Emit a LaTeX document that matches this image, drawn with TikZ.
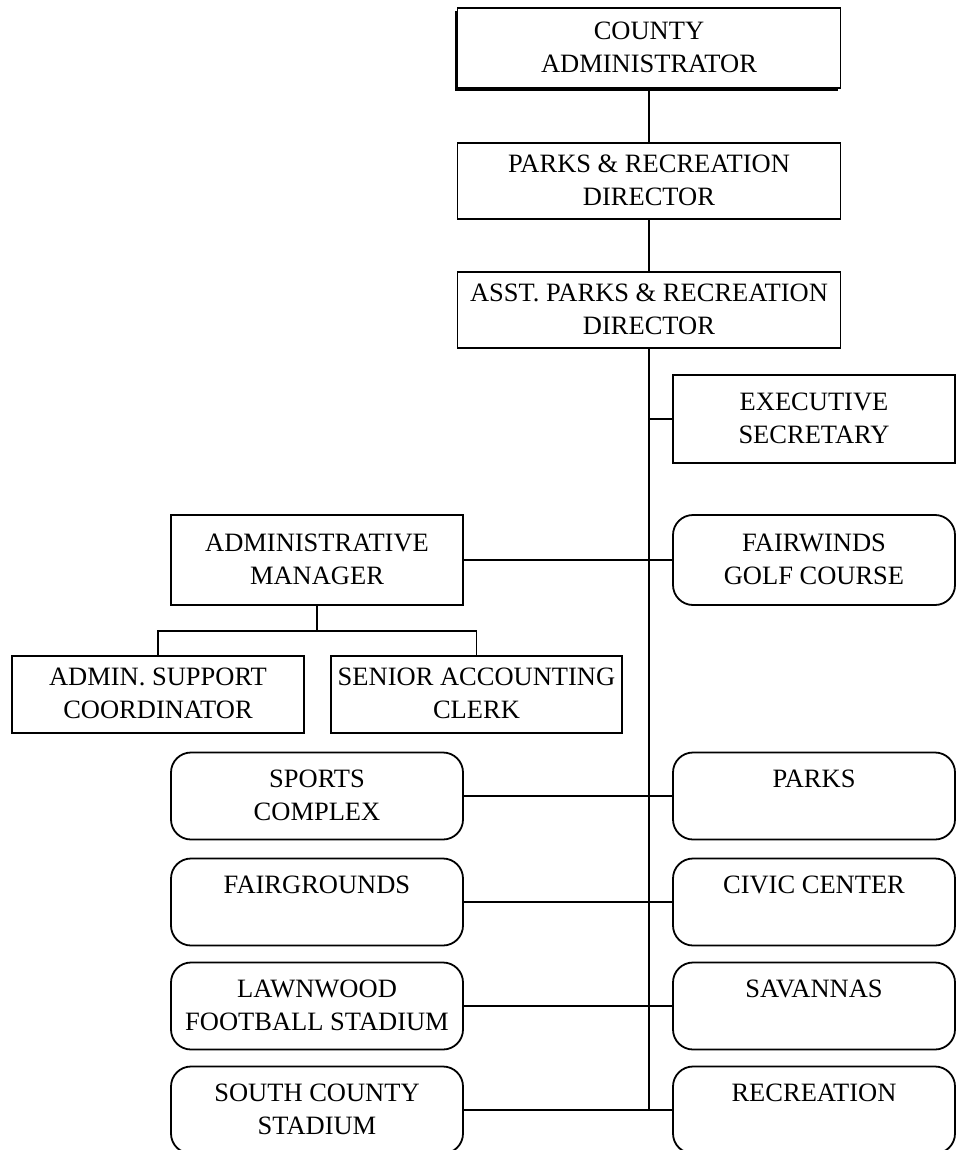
\documentclass[tikz,border=0pt]{standalone}
\usepackage{fontspec}
\setmainfont{Liberation Serif}
\usetikzlibrary{shadows}
\begin{document}
\begin{tikzpicture}[x=1pt,y=-1pt,
  line width=1.8pt,
  box/.style={draw, rectangle, inner sep=0pt, align=center,
    font=\fontsize{26.5}{33}\selectfont,
    execute at begin node=\rule{0pt}{24pt},
    execute at end node=\rule[-2pt]{0pt}{2pt}},
  rbox/.style={box, rounded corners=20pt},
  wire/.style={line width=1.8pt}]
\useasboundingbox (0,0) rectangle (956,1150);

% top of the chain
\node[box, minimum width=383, minimum height=80,
  drop shadow={shadow xshift=-3pt, shadow yshift=-3pt, fill=black, opacity=1}, fill=white]
  (county) at (649,48) {COUNTY\\ADMINISTRATOR};
\node[box, minimum width=383, minimum height=76] (dir) at (649,181) {PARKS \& RECREATION\\DIRECTOR};
\node[box, minimum width=383, minimum height=76] (asst) at (649,310) {ASST. PARKS \& RECREATION\\DIRECTOR};

% right column
\node[box,  minimum width=282, minimum height=88] (exec) at (814,419) {EXECUTIVE\\SECRETARY};
\node[rbox, minimum width=282, minimum height=90] (golf) at (814,560) {FAIRWINDS\\GOLF COURSE};
\node[rbox, minimum width=282, minimum height=87] (parks) at (814,796) {PARKS\\};
\node[rbox, minimum width=282, minimum height=87] (civic) at (814,902) {CIVIC CENTER\\};
\node[rbox, minimum width=282, minimum height=87] (sav) at (814,1006) {SAVANNAS\\};
\node[rbox, minimum width=282, minimum height=87] (rec) at (814,1110) {RECREATION\\};

% left column
\node[box,  minimum width=292, minimum height=90] (mgr) at (317,560) {ADMINISTRATIVE\\MANAGER};
\node[box,  minimum width=292, minimum height=77] (supp) at (158,694.5) {ADMIN. SUPPORT\\COORDINATOR};
\node[box,  minimum width=291, minimum height=77] (clerk) at (476.5,694.5) {SENIOR ACCOUNTING\\CLERK};
\node[rbox, minimum width=292, minimum height=87] (sports) at (317,796) {SPORTS\\COMPLEX};
\node[rbox, minimum width=292, minimum height=87] (fair) at (317,902) {FAIRGROUNDS\\};
\node[rbox, minimum width=292, minimum height=87] (lawn) at (317,1006) {LAWNWOOD\\FOOTBALL STADIUM};
\node[rbox, minimum width=292, minimum height=87] (south) at (317,1110) {SOUTH COUNTY\\STADIUM};

% trunk
\coordinate (trunkend) at (649,1110);
\draw[wire] (county.south) -- (dir.north);
\draw[wire] (dir.south) -- (asst.north);
\draw[wire] (asst.south) -- (trunkend);

% branches off the trunk
\draw[wire] (exec.west) -- (exec.west -| asst.south);
\draw[wire] (mgr.east) -- (golf.west);
\draw[wire] (sports.east) -- (parks.west);
\draw[wire] (fair.east) -- (civic.west);
\draw[wire] (lawn.east) -- (sav.west);
\draw[wire] (south.east) -- (rec.west);

% administrative staff
\coordinate (fork) at (317,631);
\draw[wire] (mgr.south) -- (fork);
\draw[wire] (supp.north) |- (fork) -| (clerk.north);
\end{tikzpicture}
\end{document}
